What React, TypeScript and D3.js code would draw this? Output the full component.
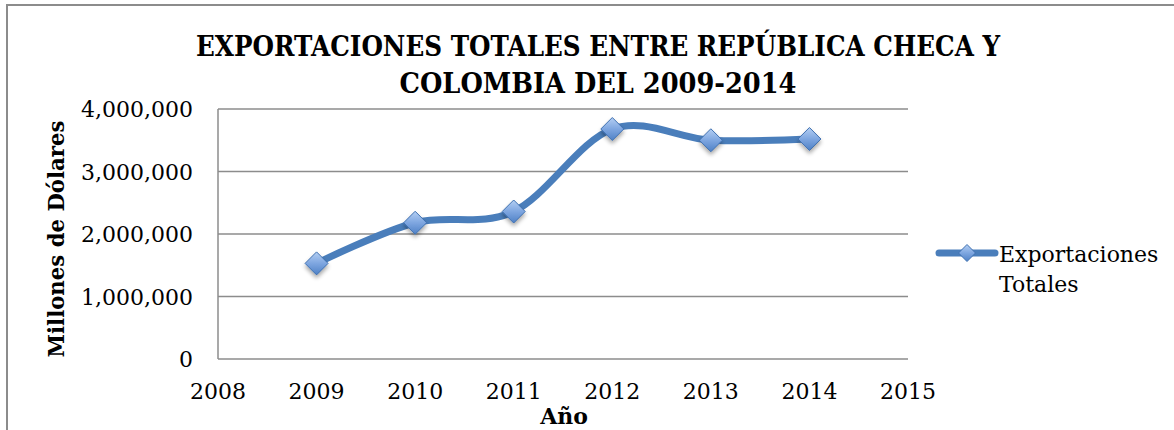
import * as d3 from "d3"

const years = [2009, 2010, 2011, 2012, 2013, 2014]
const exports = [1530000, 2180000, 2360000, 3680000, 3500000, 3520000]
const xTicks = [2008, 2009, 2010, 2011, 2012, 2013, 2014, 2015]
const yTicks = [0, 1000000, 2000000, 3000000, 4000000]
const titleLines = ["EXPORTACIONES TOTALES ENTRE REPÚBLICA CHECA Y", "COLOMBIA DEL 2009-2014"]
const seriesName = ["Exportaciones", "Totales"]

const W = 1174
const H = 430
const plot = { left: 218, right: 908, top: 109, bottom: 359 }
const FONT = "'DejaVu Serif', 'Liberation Serif', serif"
const LINE = "#4a7ebb"

// widths of the two title lines in the original picture
const titleWidths = [804, 397]

export default function App() {
  const x = d3.scaleLinear().domain([2008, 2015]).range([plot.left, plot.right])
  const y = d3.scaleLinear().domain([0, 4000000]).range([plot.bottom, plot.top])
  const fmt = d3.format(",")

  const pts: [number, number][] = years.map((yr, i) => [x(yr), y(exports[i])])
  const line = d3.line().curve(d3.curveCardinal.tension(0))(pts) ?? ""

  const diamond = (cx: number, cy: number, r: number) =>
    `M${cx},${cy - r}L${cx + r},${cy}L${cx},${cy + r}L${cx - r},${cy}Z`

  const legY = 253

  return (
    <svg
      width={W}
      height={H}
      style={{ position: "absolute", left: 0, top: 0, background: "#fff" }}
      fontFamily={FONT}
    >
      <defs>
        <linearGradient id="mk" x1="0" y1="0" x2="0" y2="1">
          <stop offset="0" stopColor="#b4cff3" />
          <stop offset="0.5" stopColor="#7ea6e0" />
          <stop offset="1" stopColor="#4f81c6" />
        </linearGradient>
        <filter id="sh" x="-50%" y="-50%" width="200%" height="200%">
          <feGaussianBlur in="SourceAlpha" stdDeviation="2" />
          <feOffset dx="0" dy="3" result="b" />
          <feComponentTransfer>
            <feFuncA type="linear" slope="0.35" />
          </feComponentTransfer>
          <feMerge>
            <feMergeNode />
            <feMergeNode in="SourceGraphic" />
          </feMerge>
        </filter>
      </defs>

      <rect x={7} y={5} width={W + 10} height={H + 10} fill="#fff" stroke="#8c8c8c" strokeWidth={2} />

      {titleLines.map((t, i) => (
        <text
          key={i}
          x={598}
          y={56 + i * 37}
          textAnchor="middle"
          fontWeight="bold"
          fontSize={28}
          textLength={titleWidths[i]}
          lengthAdjust="spacingAndGlyphs"
        >
          {t}
        </text>
      ))}

      {yTicks.map((v) => (
        <g key={v}>
          <line x1={plot.left} x2={plot.right} y1={y(v)} y2={y(v)} stroke="#8c8c8c" strokeWidth={1.5} />
          <text x={193} y={y(v) + 8} textAnchor="end" fontSize={22}>
            {fmt(v)}
          </text>
        </g>
      ))}
      <line x1={plot.left} x2={plot.left} y1={plot.top} y2={plot.bottom} stroke="#8c8c8c" strokeWidth={1.5} />

      {xTicks.map((v) => (
        <text key={v} x={x(v)} y={399} textAnchor="middle" fontSize={22}>
          {v}
        </text>
      ))}

      <text x={564} y={424} textAnchor="middle" fontWeight="bold" fontSize={22}>
        Año
      </text>
      <text
        transform={`translate(64,${(plot.top + plot.bottom) / 2 + 5}) rotate(-90)`}
        textAnchor="middle"
        fontWeight="bold"
        fontSize={23}
        textLength={237}
        lengthAdjust="spacingAndGlyphs"
      >
        Millones de Dólares
      </text>

      <path d={line} fill="none" stroke={LINE} strokeWidth={7} strokeLinecap="round" strokeLinejoin="round" />
      {pts.map(([px, py], i) => (
        <path
          key={years[i]}
          d={diamond(px, py, 11.5)}
          fill="url(#mk)"
          stroke="#3f70b0"
          strokeWidth={1}
          filter="url(#sh)"
        />
      ))}

      <line x1={939} x2={995} y1={legY} y2={legY} stroke={LINE} strokeWidth={7} strokeLinecap="round" />
      <path d={diamond(967, legY, 8.5)} fill="url(#mk)" stroke="#3f70b0" strokeWidth={1} />
      <text x={999} y={legY + 9} fontSize={22}>
        {seriesName[0]}
      </text>
      <text x={999} y={legY + 39} fontSize={22}>
        {seriesName[1]}
      </text>
    </svg>
  )
}
